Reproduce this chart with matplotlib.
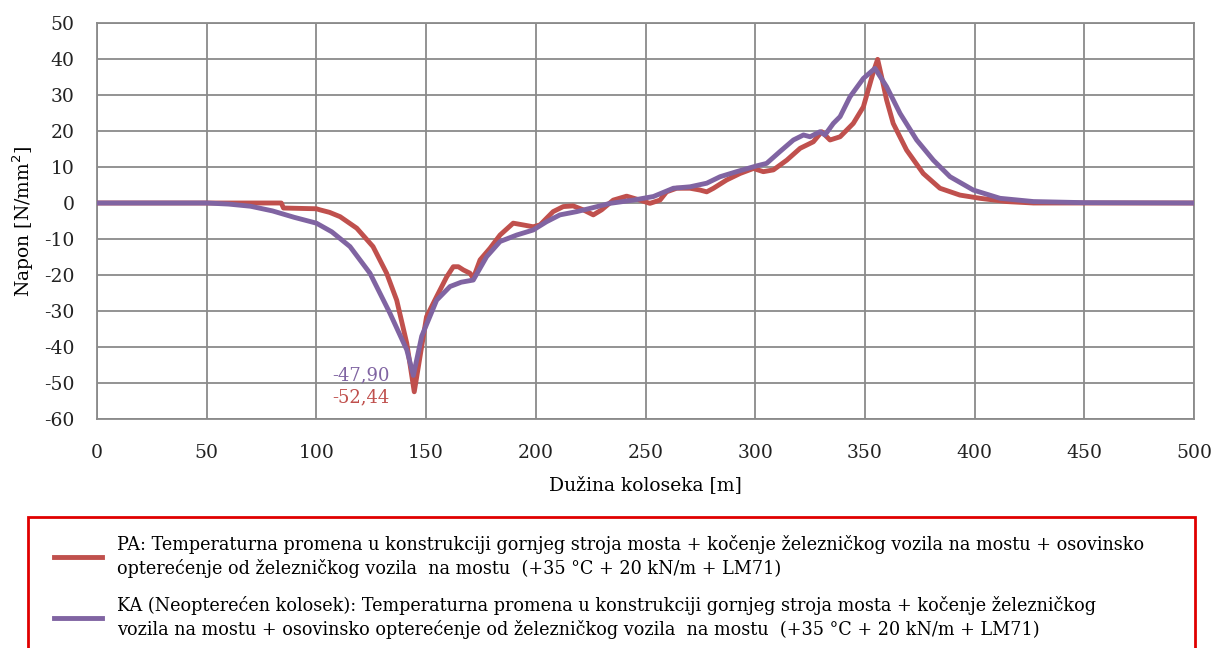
import matplotlib
matplotlib.use('Agg')
import matplotlib.pyplot as plt
from matplotlib.patches import Rectangle


# PA - loaded track (red)
pa_x = [0, 50, 84, 85, 100, 101.6, 106, 110.8, 118.4, 125.8, 132, 136.6, 141.2, 144.6,
        150.2, 154.8, 159.4, 162.4, 164.7, 167, 170, 171.5, 174.6, 179.1, 183.7, 189.7,
        194.3, 198.8, 201.9, 207.9, 212.5, 217, 221.6, 226.2, 230, 235.3, 241.4, 247.5,
        252, 256.6, 259.6, 264.2, 270.3, 274.8, 277.9, 281, 287, 293.1, 299.2, 303.7,
        308.3, 314.4, 320.5, 326.5, 330.3, 334.1, 338.7, 344.7, 349.3, 353.9, 355.8,
        357.6, 359.9, 362.9, 369, 376.6, 384.2, 393.3, 402.5, 414.6, 426.8, 450, 500]
pa_y = [0, 0, 0, -1.4, -1.6, -1.9, -2.6, -3.8, -7, -12.1, -19.5, -27, -39, -52.44,
        -31.6, -26, -20.5, -17.7, -17.7, -18.6, -19.5, -20.9, -15.8, -12.6, -8.9, -5.6,
        -6.1, -6.6, -6.1, -2.4, -1, -0.8, -1.9, -3.3, -1.9, 0.8, 1.9, 0.8,
        -0.1, 0.8, 3.1, 4.1, 4.1, 3.6, 3.1, 4.1, 6.4, 8.2, 9.6, 8.7,
        9.2, 11.9, 15.2, 17, 19.8, 17.5, 18.4, 22.1, 26.7, 36.5, 39.9,
        35.1, 28.6, 22.1, 14.7, 8.2, 4.1, 2.2, 1.3, 0.4, 0, 0, 0]

# KA - unloaded track (purple)
ka_x = [0, 50, 60, 70, 80, 90, 100, 107, 115.3, 124.4, 133.5, 141.2, 144.2, 148, 154.8,
        160.9, 166, 171.5, 177.6, 183.7, 191.3, 198.8, 204.9, 211, 218.6, 224.7, 233.8,
        244.4, 253.6, 262.7, 270.3, 277.9, 284, 291.5, 300.6, 305.2, 311.3, 317.4, 322,
        325, 329.5, 331.8, 335.6, 338.7, 343.2, 349.3, 354.6, 359.9, 366, 373.6, 381.2,
        388.8, 399.4, 411.6, 426.8, 449.5, 500]
ka_y = [0, 0, -0.3, -0.9, -2.2, -4, -5.6, -8, -12.1, -19.5, -30.6, -40.8, -47.9, -37, -27,
        -23.2, -22, -21.4, -14.9, -10.7, -8.9, -7.5, -5.2, -3.3, -2.4, -1.5, -0.1,
        0.8, 1.8, 4.1, 4.5, 5.5, 7.3, 8.7, 10.3, 11, 14.3, 17.5, 18.9,
        18.4, 19.8, 18.9, 22.1, 24, 29.5, 34.6, 37.4, 32.3, 24.9, 17.5, 11.9,
        7.3, 3.6, 1.3, 0.4, 0.1, 0]

x_ticks = list(range(0, 501, 50))
y_ticks = list(range(-60, 51, 10))

label_pa = ('PA: Temperaturna promena u konstrukciji gornjeg stroja mosta + kočenje železničkog '
            'vozila na mostu + osovinsko\nopterećenje od železničkog vozila  na mostu  '
            '(+35 °C + 20 kN/m + LM71)')
label_ka = ('KA (Neopterećen kolosek): Temperaturna promena u konstrukciji gornjeg stroja mosta + '
            'kočenje železničkog\nvozila na mostu + osovinsko opterećenje od železničkog vozila  '
            'na mostu  (+35 °C + 20 kN/m + LM71)')

red = '#C0504D'
purple = '#8064A2'
grid_c = '#8A8A8A'

plt.rcParams['font.family'] = ['DejaVu Serif']
plt.rcParams['axes.unicode_minus'] = False

W, H = 1215, 648
fig = plt.figure(figsize=(W / 100, H / 100), dpi=100)
ax = fig.add_axes([97 / W, 1 - 419 / H, (1194 - 97) / W, (419 - 23) / H])

ax.plot(pa_x, pa_y, color=red, lw=3.5, solid_joinstyle='round', label=label_pa, zorder=3)
ax.plot(ka_x, ka_y, color=purple, lw=3.5, solid_joinstyle='round', label=label_ka, zorder=4)

ax.set_xlim(0, 500)
ax.set_ylim(-60, 50)
ax.set_xticks(x_ticks)
ax.set_yticks(y_ticks)
ax.grid(True, color=grid_c, lw=1.3)
for s in ax.spines.values():
    s.set_color(grid_c)
    s.set_linewidth(1.3)
ax.tick_params(length=0, labelsize=13.5, colors='#222222')
ax.tick_params(axis='x', pad=18)
ax.tick_params(axis='y', pad=16)

ax.set_xlabel('Dužina koloseka [m]', fontsize=13.5, labelpad=10)
ax.set_ylabel('Napon [N/mm$^2$]', fontsize=13.5, labelpad=6)

ax.text(133.5, -47.9, '-47,90', color=purple, fontsize=13, ha='right', va='center')
ax.text(133.5, -53.9, '-52,44', color=red, fontsize=13, ha='right', va='center')

# legend box (runs off the bottom of the figure)
fig.patches.append(Rectangle((28 / W, -0.05), (1195 - 28) / W, 0.05 + 1 - 517 / H,
                             transform=fig.transFigure, fill=False, ec='#E00000', lw=2))
leg = fig.legend(loc='upper left', bbox_to_anchor=(38 / W, 1 - 519 / H), frameon=False,
                 fontsize=12.7, handlelength=2.7, handletextpad=0.9, labelspacing=1.0)
for t in leg.get_texts():
    t.set_linespacing(1.35)

fig.savefig('out.png', dpi=100)
